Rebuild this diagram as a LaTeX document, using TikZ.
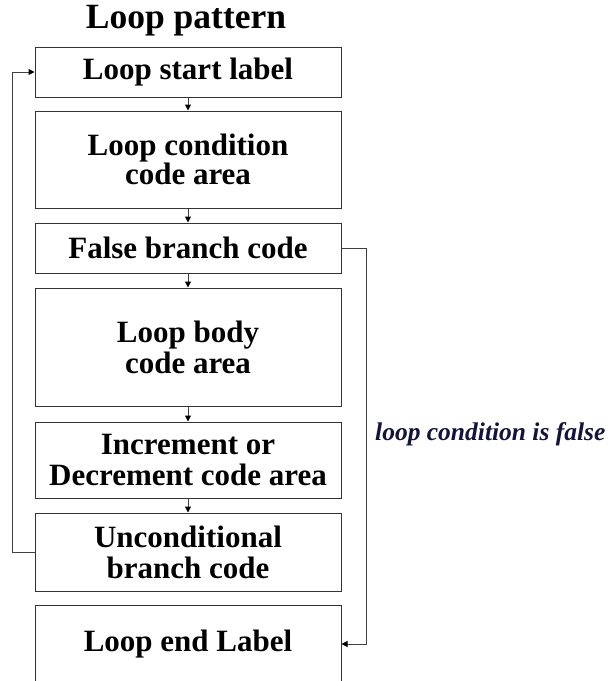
\documentclass[tikz,border=0pt]{standalone}
\usepackage{fontspec}
\setmainfont{Liberation Serif}
\usetikzlibrary{arrows.meta}
\tikzset{
  stagebox/.style={draw=black!80, line width=1pt, fill=white,
    minimum width=306pt, inner sep=0pt, align=center,
    font=\fontsize{31}{31}\selectfont\bfseries},
  flow/.style={draw=black!75, line width=1pt,
    -{Triangle[length=6pt,width=6pt,color=black]}},
  wire/.style={draw=black!75, line width=1pt}
}
\begin{document}
\begin{tikzpicture}[x=1pt,y=-1pt]
  \useasboundingbox (0,0) rectangle (614,681);
  \clip (0,0) rectangle (614,681);
  \fill[white] (0,0) rectangle (614,681);

  % title
  \node[font=\fontsize{35.5}{35.5}\selectfont\bfseries] (title) at (186,21) {Loop pattern};

  % stages of the loop
  \node[stagebox, minimum height=50pt]  (b1) at (188,72)    {Loop start label};
  \node[stagebox, minimum height=97pt, font=\fontsize{31}{26}\selectfont\bfseries]
                                        (b2) at (188,159.5) {Loop condition\\code area};
  \node[stagebox, minimum height=50pt]  (b3) at (188,248)   {False branch code};
  \node[stagebox, minimum height=118pt] (b4) at (188,347)   {Loop body\\code area};
  \node[stagebox, minimum height=76pt]  (b5) at (188,460)   {Increment or\\Decrement code area};
  \node[stagebox, minimum height=78pt]  (b6) at (188,552)   {Unconditional\\branch code};
  \node[stagebox, minimum height=78pt]  (b7) at (188,644)   {Loop end Label};

  % straight-line flow
  \draw[flow] (b1) -- (b2);
  \draw[flow] (b2) -- (b3);
  \draw[flow] (b3) -- (b4);
  \draw[flow] (b4) -- (b5);
  \draw[flow] (b5) -- (b6);

  % jump back to the start
  \coordinate (backx) at (12,552);
  \draw[wire] (b6.west) -- (backx);
  \draw[flow] (backx) |- (b1.west);

  % exit when the condition fails
  \coordinate (exitx) at (366,248);
  \draw[wire] (b3.east) -- (exitx);
  \draw[flow] (exitx) |- (b7.east);

  \node[anchor=base west, inner sep=0pt, text={rgb,255:red,18;green,20;blue,60},
        font=\fontsize{25.5}{25.5}\selectfont\bfseries\itshape]
        (cond) at (375,440) {loop condition is false};
\end{tikzpicture}
\end{document}
